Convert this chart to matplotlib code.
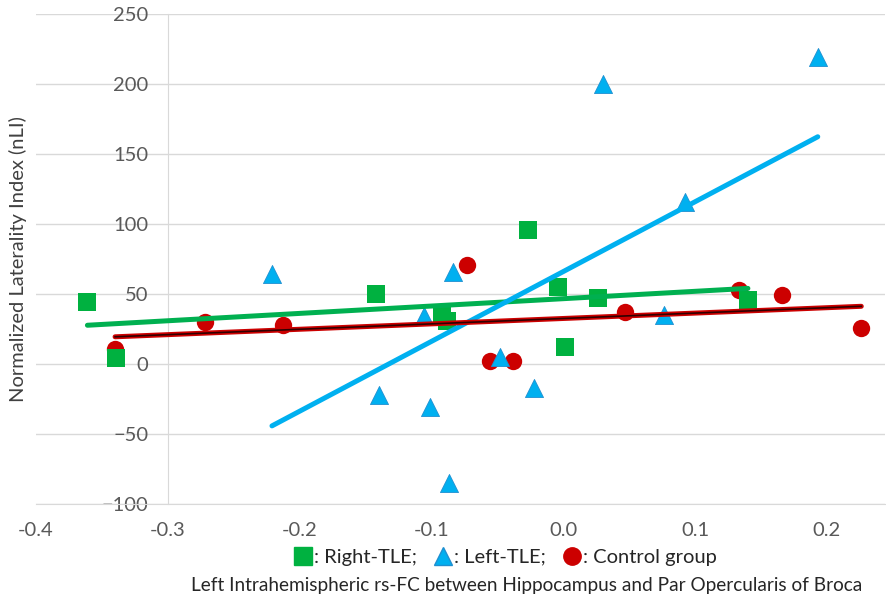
import numpy as np
import matplotlib
matplotlib.use("Agg")
import matplotlib.pyplot as plt
from matplotlib.lines import Line2D

plt.rcParams['font.family'] = ['Lato', 'DejaVu Sans']

# Right-TLE (green squares)
right_x = [-0.361, -0.339, -0.142, -0.092, -0.088, -0.027, -0.004, 0.001, 0.026, 0.140]
right_y = [44, 4, 50, 35, 31, 96, 55, 12, 47, 46]
# Left-TLE (blue triangles)
left_x = [-0.221, -0.106, -0.084, -0.140, -0.101, -0.087, -0.048, -0.022, 0.030, 0.193, 0.092, 0.076]
left_y = [64, 34, 66, -22, -31, -85, 5, -17, 200, 219, 116, 35]
# Control group (red circles)
ctrl_x = [-0.340, -0.272, -0.213, -0.073, -0.056, -0.038, 0.047, 0.133, 0.166, 0.226]
ctrl_y = [11, 30, 28, 71, 2, 2, 37, 53, 49, 26]

xticks = [-0.4, -0.3, -0.2, -0.1, 0.0, 0.1, 0.2]
xticklabels = ['-0.4', '-0.3', '-0.2', '-0.1', '0.0', '0.1', '0.2']
yticks = [-100, -50, 0, 50, 100, 150, 200, 250]

GREEN = '#00B050'
BLUE = '#00B0F0'
RED = '#CC0000'

fig = plt.figure(figsize=(8.87, 6.04), dpi=100)
ax = fig.add_axes([36/887, 100/604, 849/887, 490/604])
ax.set_xlim(-0.4, 0.244)
ax.set_ylim(-100, 250)

ax.set_yticks(yticks)
ax.set_xticks(xticks)
ax.set_xticklabels(xticklabels)
ax.grid(axis='y', color='#D9D9D9', linewidth=1)
ax.set_axisbelow(True)
for s in ['top', 'right']:
    ax.spines[s].set_visible(False)
ax.spines['left'].set_position(('data', -0.3))
ax.spines['left'].set_color('#D9D9D9')
ax.spines['bottom'].set_color('#D9D9D9')
ax.tick_params(length=0, labelsize=14.5, labelcolor='#595959')
ax.tick_params(axis='x', pad=13)
ax.tick_params(axis='y', pad=14)

def trend(xs, ys):
    xs = np.asarray(xs); ys = np.asarray(ys)
    m, b = np.polyfit(xs, ys, 1)
    xx = np.array([xs.min(), xs.max()])
    return xx, m * xx + b

ax.scatter(ctrl_x, ctrl_y, s=12.5**2, marker='o', color=RED, zorder=3, linewidths=0)
ax.scatter(right_x, right_y, s=13**2, marker='s', color='#00B140', zorder=3, linewidths=0)
ax.scatter(left_x, left_y, s=13**2, marker='^', color=BLUE, edgecolors='#1F8FD0', linewidths=0.6, zorder=4)

gx, gy = trend(right_x, right_y)
ax.plot(gx, gy, color=GREEN, lw=3.6, solid_capstyle='round', zorder=5)
bx, by = trend(left_x, left_y)
ax.plot(bx, by, color=BLUE, lw=3.6, solid_capstyle='round', zorder=5)
rx, ry = trend(ctrl_x, ctrl_y)
ax.plot(rx, ry, color=RED, lw=3.6, solid_capstyle='round', zorder=5)
ax.plot(rx, ry, color='#300000', lw=1.2, zorder=6)

ax.set_ylabel('Normalized Laterality Index (nLI)', fontsize=14.5, color='#404040')
ax.yaxis.set_label_coords(-0.0106, 0.5)

handles = [
    Line2D([], [], ls='', marker='s', color='#00B140', markersize=13),
    Line2D([], [], ls='', marker='^', color=BLUE, markeredgecolor='#1F8FD0', markersize=13),
    Line2D([], [], ls='', marker='o', color=RED, markersize=12.5),
]
labels = [': Right-TLE;', ': Left-TLE;', ': Control group']
fig.legend(handles, labels, loc='center', bbox_to_anchor=(505/887, 1 - 557/604), ncol=3,
           frameon=False, fontsize=14.5, handletextpad=0.05, columnspacing=0.8,
           handlelength=1.0, labelcolor='#262626')

fig.text(527/887, 1 - 586/604,
         'Left Intrahemispheric rs-FC between Hippocampus and Par Opercularis of Broca',
         ha='center', va='center', fontsize=13.7, color='#262626')

fig.savefig('out.png', dpi=100)
